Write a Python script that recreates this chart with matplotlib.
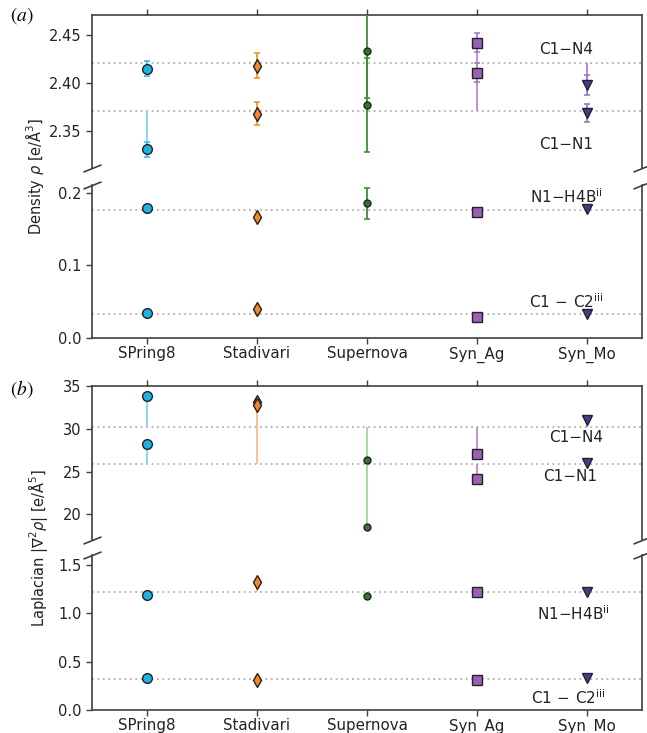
import numpy as np
import matplotlib.pyplot as plt

methods = ['SPring8', 'Stadivari', 'Supernova', 'Syn_Ag', 'Syn_Mo']

# order of bonds: C1-N4, C1-N1, N1-H4B, C1-C2
rho_ref = [2.421, 2.371, 0.176, 0.033]
rho_spring8 = [2.415, 2.331, 0.179, 0.034]
rho_stadivari = [2.418, 2.368, 0.166, 0.040]
rho_supernova = [2.433, 2.377, 0.1855, np.nan]
rho_synag = [2.442, 2.411, 0.174, 0.029]
rho_synmo = [2.398, 2.369, 0.178, 0.033]

rho_err_spring8 = [0.008, 0.008, 0.0, 0.0]
rho_err_stadivari = [0.013, 0.012, 0.0, 0.0]
rho_err_supernova = [0.049, 0.049, 0.0215, 0.0]
rho_err_synag = [0.010, 0.0095, 0.0, 0.0]
rho_err_synmo = [0.010, 0.0097, 0.0, 0.0]

lap_ref = [30.24, 25.88, 1.223, 0.317]
lap_spring8 = [33.87, 28.22, 1.189, 0.328]
lap_stadivari = [33.1, 32.8, 1.32, 0.310]
lap_supernova = [26.35, 18.55, 1.179, np.nan]
lap_synag = [27.01, 24.09, 1.217, 0.310]
lap_synmo = [31.03, 25.96, 1.217, 0.328]

rho_vals = [rho_spring8, rho_stadivari, rho_supernova, rho_synag, rho_synmo]
rho_errs = [rho_err_spring8, rho_err_stadivari, rho_err_supernova, rho_err_synag, rho_err_synmo]
lap_vals = [lap_spring8, lap_stadivari, lap_supernova, lap_synag, lap_synmo]

styles = [
    dict(marker='o', ms=7, mfc='#1fb3e5', line='#86d3f0', err='#3fbbe8'),
    dict(marker='d', ms=7.5, mfc='#f4872a', line='#f9bf8c', err='#f4932f'),
    dict(marker='o', ms=5, mfc='#2f7a2a', line='#a4d69d', err='#3f8f35'),
    dict(marker='s', ms=6.5, mfc='#9b5fb5', line='#b48fcc', err='#a77cc6'),
    dict(marker='v', ms=7, mfc='#4a3a94', line='#a885cc', err='#9c77c4'),
]

SP = '#404040'
W, H = 647, 733
fig = plt.figure(figsize=(W / 100, H / 100), dpi=100)

def fr(top, bot):
    return [92 / W, 1 - bot / H, 550 / W, (bot - top) / H]

ax_a1 = fig.add_axes(fr(15, 168))
ax_a2 = fig.add_axes(fr(185, 338))
ax_b1 = fig.add_axes(fr(386, 540))
ax_b2 = fig.add_axes(fr(555, 710))

def style_pair(ax1, ax2):
    for ax in (ax1, ax2):
        for s in ax.spines.values():
            s.set_color(SP)
            s.set_linewidth(1.2)
        ax.tick_params(axis='both', colors=SP, labelcolor='#222222', labelsize=10.5,
                       width=1.0, length=4)
        ax.set_xlim(-0.5, 4.5)
        ax.set_xticks(range(len(methods)))
    ax1.spines['bottom'].set_visible(False)
    ax2.spines['top'].set_visible(False)
    ax1.xaxis.tick_top()
    ax1.tick_params(labeltop=False)
    ax2.xaxis.tick_bottom()
    ax2.tick_params(axis='x', pad=2)
    ax2.set_xticklabels(methods, fontsize=10.8)
    kw = dict(marker=[(-1, -0.4), (1, 0.4)], markersize=13, linestyle='none',
              color=SP, mec=SP, mew=1.2, clip_on=False)
    ax1.plot([0, 1], [0, 0], transform=ax1.transAxes, **kw)
    ax2.plot([0, 1], [1, 1], transform=ax2.transAxes, **kw)

def draw(ax1, ax2, vals, refs, errs=None):
    for ax in (ax1, ax2):
        for r in refs:
            ax.axhline(r, color='#b0b0b0', ls=(0, (1, 2)), lw=1.3, zorder=1)
    for i, (v, st) in enumerate(zip(vals, styles)):
        for j in range(4):
            ax = ax1 if j < 2 else ax2
            y = v[j]
            if np.isnan(y):
                continue
            ax.vlines(i, min(y, refs[j]), max(y, refs[j]), color=st['line'], lw=1.3, zorder=2)
            e = errs[i][j] if errs is not None else 0
            if e > 0:
                ax.errorbar(i, y, yerr=e, fmt='none', ecolor=st['err'], elinewidth=1.3,
                            capsize=2.5, capthick=1.2, zorder=3)
            ax.plot(i, y, marker=st['marker'], ms=st['ms'], mfc=st['mfc'], mec='#222222',
                    mew=1.0, ls='none', zorder=4)

style_pair(ax_a1, ax_a2)
style_pair(ax_b1, ax_b2)
draw(ax_a1, ax_a2, rho_vals, rho_ref, rho_errs)
draw(ax_b1, ax_b2, lap_vals, lap_ref)

ax_a1.set_ylim(2.3115, 2.471)
ax_a1.set_yticks([2.35, 2.40, 2.45])
ax_a1.set_yticklabels(['2.35', '2.40', '2.45'])
ax_a2.set_ylim(0, 0.2105)
ax_a2.set_yticks([0.0, 0.1, 0.2])
ax_b1.set_ylim(17.0, 35.0)
ax_b1.set_yticks([20, 25, 30, 35])
ax_b2.set_ylim(0, 1.604)
ax_b2.set_yticks([0.0, 0.5, 1.0, 1.5])

tk = dict(fontsize=11, color='#222222', ha='center', va='center')
ax_a1.text(4.0 - 0.19, 2.4354, 'C1−N4', **tk)
ax_a1.text(4.0 - 0.19, 2.3365, 'C1−N1', **tk)
ax_a2.text(4.0 - 0.19, 0.194, 'N1−H4B$^{\\mathrm{ii}}$', **tk)
ax_a2.text(4.0 - 0.19, 0.050, 'C1$\\,-\\,$C2$^{\\mathrm{iii}}$', **tk)
ax_b1.text(4.0 - 0.10, 29.0, 'C1−N4', **tk)
ax_b1.text(4.0 - 0.15, 24.4, 'C1−N1', **tk)
ax_b2.text(4.0 - 0.12, 1.0, 'N1−H4B$^{\\mathrm{ii}}$', **tk)
ax_b2.text(4.0 - 0.17, 0.124, 'C1$\\,-\\,$C2$^{\\mathrm{iii}}$', **tk)

fig.text(34 / W, 1 - 176 / H, 'Density $\\rho$ [e/Å$^3$]', rotation=90,
         ha='center', va='center', fontsize=10.5, color='#222222')
fig.text(38 / W, 1 - 548 / H, 'Laplacian $|\\nabla^2\\rho|$ [e/Å$^5$]', rotation=90,
         ha='center', va='center', fontsize=10.5, color='#222222')

fig.text(22 / W, 1 - 16 / H, '$(a)$', math_fontfamily='stix', fontsize=14,
         ha='center', va='center')
fig.text(22 / W, 1 - 389 / H, '$(b)$', math_fontfamily='stix', fontsize=14,
         ha='center', va='center')

fig.savefig('out.png', dpi=100)
